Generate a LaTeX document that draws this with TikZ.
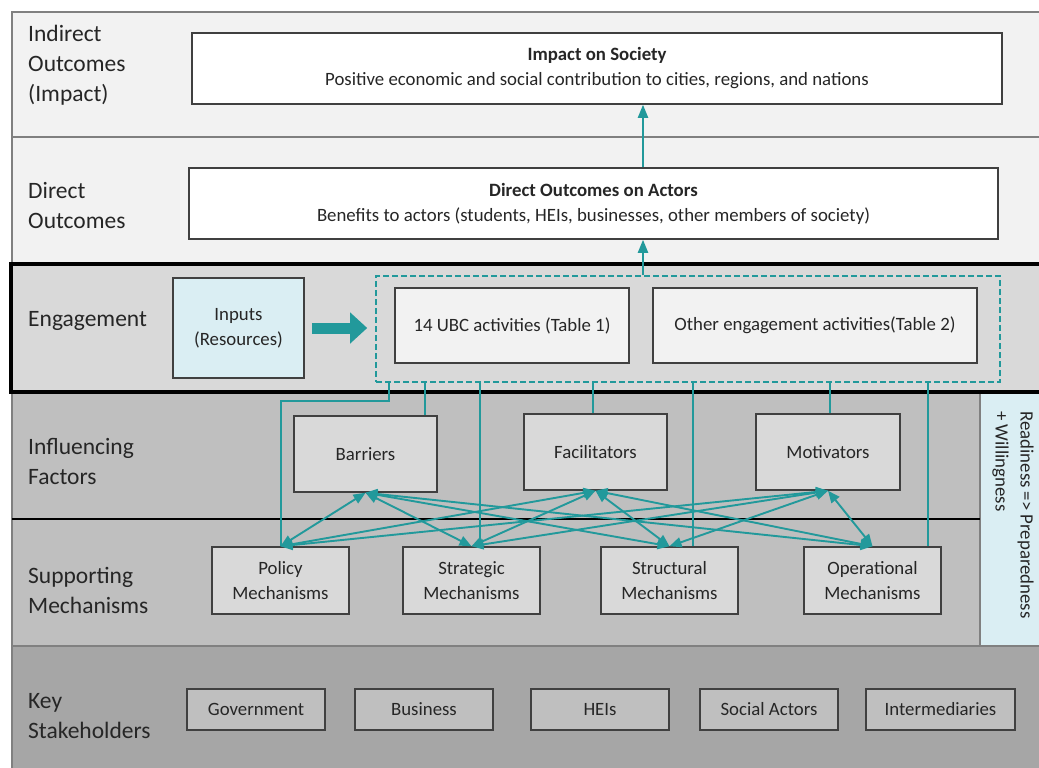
\documentclass[tikz,border=0pt]{standalone}
\usepackage{fontspec}
\setmainfont{Carlito}
\usepackage{tikz}
\usetikzlibrary{arrows.meta,calc}
\definecolor{UBCTeal}{HTML}{22999B}
\definecolor{BandLight}{HTML}{F2F2F2}
\definecolor{BandMid}{HTML}{D9D9D9}
\definecolor{BandDark}{HTML}{BFBFBF}
\definecolor{BandBase}{HTML}{A6A6A6}
\definecolor{PaleCyan}{HTML}{DAEEF3}
\definecolor{EdgeGray}{HTML}{404040}
\definecolor{InkGray}{HTML}{262626}
\newcommand\lblsize{\fontsize{23.5}{30}\selectfont}
\newcommand\boxsize{\fontsize{18.8}{25}\selectfont}

\begin{document}
\begin{tikzpicture}[x=1pt,y=-1pt,
  >=Triangle,
  every node/.style={text=InkGray,align=center},
  band/.style={draw=black!50,line width=1.2pt},
  rowlabel/.style={anchor=west,inner sep=0pt,align=left,font=\lblsize},
  outcome/.style={draw=EdgeGray,line width=1.5pt,fill=white,
    minimum width=810pt,minimum height=71pt,font=\boxsize},
  activity/.style={draw=EdgeGray,line width=1.5pt,fill=BandLight,
    minimum height=75pt,font=\boxsize},
  factor/.style={draw=EdgeGray,line width=1.5pt,fill=BandMid,
    minimum width=143pt,minimum height=76pt,font=\boxsize},
  mechanism/.style={draw=EdgeGray,line width=1.5pt,fill=BandMid,
    minimum width=137pt,minimum height=67pt,font=\boxsize},
  actor/.style={draw=EdgeGray,line width=1.5pt,fill=BandDark,
    minimum width=138pt,minimum height=41pt,font=\boxsize},
  grouping/.style={draw=UBCTeal,line width=1.6pt,dash pattern=on 6pt off 3pt,
    minimum width=624pt,minimum height=106pt,inner sep=0pt},
  link/.style={UBCTeal,line width=2pt},
  lift/.style={UBCTeal,line width=2pt,-{Triangle[length=13pt,width=10pt]}},
  mutual/.style={UBCTeal,line width=1.9pt,
    {Triangle[length=12pt,width=10pt]}-{Triangle[length=12pt,width=10pt]}},
  feed/.style={UBCTeal,line width=11pt,-{Triangle[length=17pt,width=30pt]}}
]
\useasboundingbox (0,0) rectangle (1039,768);
\fill[white] (0,0) rectangle (1039,768);
\clip (0,0) rectangle (1039,768);

\draw[band,fill=BandLight] (12,12) rectangle (1050,137);
\draw[band,fill=BandLight] (12,137) rectangle (1050,264);
\draw[band,fill=BandDark] (12,392) rectangle (980,646);
\draw[band,fill=PaleCyan] (980,392) rectangle (1050,646);
\draw[band,fill=BandBase] (12,646) rectangle (1050,780);
\draw[line width=3.5pt,fill=BandMid] (11,264) rectangle (1050,392);
\draw[line width=2.5pt] (12,519) -- (980,519);

\node[rowlabel] (lindirect) at (28,65) {Indirect\\Outcomes\\(Impact)};
\node[rowlabel] (ldirect) at (28,206) {Direct\\Outcomes};
\node[rowlabel] (lengage) at (28,321) {Engagement};
\node[rowlabel] (lfactor) at (28,461) {Influencing\\Factors};
\node[rowlabel] (lsupport) at (28,590) {Supporting\\Mechanisms};
\node[rowlabel] (lkey) at (28,716) {Key\\Stakeholders};

\node[outcome] (impact) at (597,68.5) {\textbf{Impact on Society}\\Positive economic and social contribution to cities, regions, and nations};
\node[outcome,minimum width=809pt] (direct) at (593.5,203.5) {\textbf{Direct Outcomes on Actors}\\Benefits to actors (students, HEIs, businesses, other members of society)};

\node[draw=EdgeGray,line width=1.5pt,fill=PaleCyan,minimum width=131pt,
  minimum height=100pt,font=\boxsize] (inputs) at (238.5,328) {Inputs\\(Resources)};
\node[grouping] (group) at (688,329) {};
\node[activity,minimum width=234pt] (ubc) at (512,325.5) {14 UBC activities (Table 1)};
\node[activity,minimum width=324pt] (other) at (815,325.5) {Other engagement activities(Table 2)};

\node[factor] (barriers) at (365.5,454) {Barriers};
\node[factor] (facilitators) at (595.5,452) {Facilitators};
\node[factor,minimum width=144pt] (motivators) at (828,452) {Motivators};

\node[mechanism] (policy) at (280.5,580.5) {Policy\\Mechanisms};
\node[mechanism] (strategic) at (471.5,580.5) {Strategic\\Mechanisms};
\node[mechanism] (structural) at (669.5,580.5) {Structural\\Mechanisms};
\node[mechanism] (operational) at (872.5,580.5) {Operational\\Mechanisms};

\node[actor] (gov) at (256,709.5) {Government};
\node[actor] (business) at (424,709.5) {Business};
\node[actor] (heis) at (600,709.5) {HEIs};
\node[actor] (social) at (769,709.5) {Social Actors};
\node[actor,minimum width=149pt] (inter) at (940.5,709.5) {Intermediaries};

\node[rotate=-90,align=left,font=\boxsize] (ready) at (1013,515) {Readiness => Preparedness\\+ Willingness};

\coordinate (liftx) at ([xshift=-45pt]group.north);
\coordinate (tp) at ([xshift=14pt]group.south west);
\coordinate (tb) at ([xshift=-13pt]barriers.north east);
\coordinate (tf) at ([xshift=-2.5pt]facilitators.north);
\coordinate (tm) at ([xshift=2pt]motivators.north);
\coordinate (ts) at ([xshift=8.5pt]strategic.north);
\coordinate (tu) at ([xshift=23.5pt]structural.north);
\coordinate (to) at ([xshift=-14pt]operational.north east);

\draw[lift] (liftx) -- (liftx |- direct.south);
\draw[lift] (liftx |- direct.north) -- (liftx |- impact.south);
\draw[feed,shorten <=7pt,shorten >=8pt] (inputs.east) -- (inputs.east -| group.west);

\draw[link] (tp) -- ++(0,18) -| (policy.north);
\draw[link] (tb) -- (tb |- group.south);
\draw[link] (tf) -- (tf |- group.south);
\draw[link] (tm) -- (tm |- group.south);
\draw[link] (ts) -- (ts |- group.south);
\draw[link] (tu) -- (tu |- group.south);
\draw[link] (to) -- (to |- group.south);

\draw[mutual] (barriers.south) -- (policy.north);
\draw[mutual] (barriers.south) -- (strategic.north);
\draw[mutual] (barriers.south) -- (structural.north);
\draw[mutual] (barriers.south) -- (operational.north);
\draw[mutual] (facilitators.south) -- (policy.north);
\draw[mutual] (facilitators.south) -- (strategic.north);
\draw[mutual] (facilitators.south) -- (structural.north);
\draw[mutual] (facilitators.south) -- (operational.north);
\draw[mutual] (motivators.south) -- (policy.north);
\draw[mutual] (motivators.south) -- (strategic.north);
\draw[mutual] (motivators.south) -- (structural.north);
\draw[mutual] (motivators.south) -- (operational.north);
\end{tikzpicture}
\end{document}
